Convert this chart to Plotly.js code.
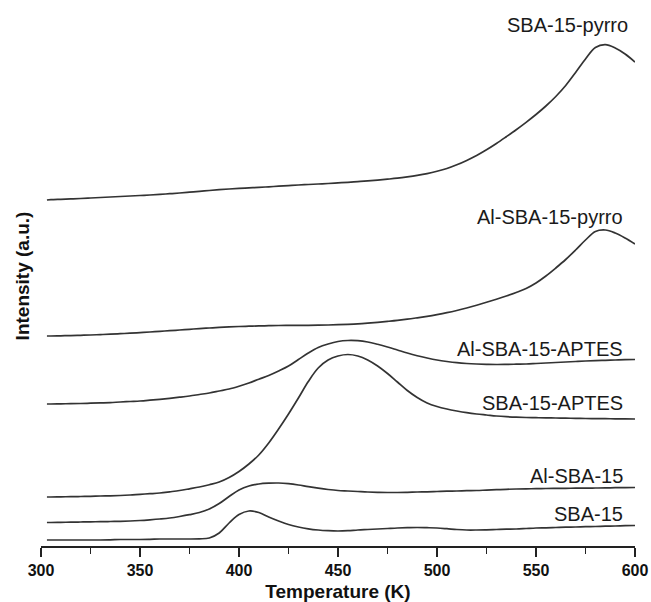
<!DOCTYPE html>
<html>
<head>
<meta charset="utf-8">
<script src="https://cdn.plot.ly/plotly-3.0.1.min.js"></script>
<style>
  html, body { margin: 0; padding: 0; background: #fff; }
  #chart { width: 651px; height: 602px; }
</style>
</head>
<body>
<div id="chart"></div>
<script>
// TPD profiles, stacked with vertical offsets (arbitrary units)
const sampleNames = ['SBA-15', 'Al-SBA-15', 'SBA-15-APTES', 'Al-SBA-15-APTES', 'Al-SBA-15-pyrro', 'SBA-15-pyrro'];

// common temperature grid (K)
const temperature = [303, 305, 310, 315, 320, 325, 330, 335, 340, 345, 350, 355, 360, 365, 370, 375, 380, 385, 390, 395,
  400, 405, 410, 415, 420, 425, 430, 435, 440, 445, 450, 455, 460, 465, 470, 475, 480, 485, 490, 495,
  500, 505, 510, 515, 520, 525, 530, 535, 540, 545, 550, 555, 560, 565, 570, 575, 580, 585, 590, 595, 600];

const iSBA15 = [6, 6, 6, 6, 6, 6, 6, 6.2, 6.5, 6.5, 6.5, 6.7, 7, 7, 7, 7, 7.2, 8, 13, 23,
  31.5, 35, 33.5, 29, 25, 21.5, 19, 17.2, 16, 15.3, 15, 15.3, 16, 16.5, 17, 17.5, 18, 18.3, 18.5, 18.3,
  18, 17.3, 16.5, 16, 16, 16.2, 16.5, 16.8, 17, 17.5, 18, 18.2, 18.5, 18.8, 19, 19.3, 19.5, 19.8, 20, 20.3, 20.5];

const iAlSBA15 = [23.5, 23.5, 23.7, 23.8, 24, 24.2, 24.3, 24.5, 24.7, 25, 25.5, 26.2, 27, 28, 29.5, 31.3, 33.5, 37, 42.5, 49.5,
  56, 60, 62, 62.8, 63, 62.3, 61, 59.3, 57.8, 56.5, 55.5, 55, 54.5, 54, 53.7, 53.5, 53.5, 53.7, 54, 54.2,
  54.5, 54.8, 55, 55.3, 55.5, 55.9, 56.3, 56.7, 57, 57.2, 57.3, 57.5, 57.6, 57.7, 57.8, 57.9, 58, 58.1, 58.3, 58.4, 58.5];

const iSBA15APTES = [49, 49, 49.2, 49.3, 49.5, 49.7, 50, 50.2, 50.5, 51, 51.7, 52.3, 53, 54.2, 55.5, 57.2, 59, 61.3, 64, 68.5,
  74.5, 82, 91, 103, 117, 132, 148, 164.5, 178, 186, 190, 191.5, 190, 186, 180, 172.5, 164, 155.5, 148.5, 143,
  139.5, 137, 135, 133.3, 132, 131, 130, 129.3, 128.8, 128.5, 128.3, 128.1, 128, 127.8, 127.7, 127.5, 127.4, 127.3, 127.2, 127.1, 127];

const iAlSBA15APTES = [142, 142, 142.2, 142.3, 142.5, 142.8, 143.1, 143.4, 144, 144.5, 145, 145.8, 146.7, 147.7, 148.8, 150, 151.5, 153, 155, 157,
  159.8, 163, 166.8, 170.5, 175, 180, 186.5, 193, 198.5, 202, 204.5, 205.5, 205.3, 204, 201.7, 199, 196, 193, 190.3, 188,
  186, 184.5, 183.3, 182.5, 182, 181.7, 181.5, 181.6, 181.8, 182, 182.5, 183, 183.5, 184, 184.5, 185, 185.4, 185.7, 186, 186.3, 186.5];

const iAlSBA15Pyrro = [210, 210, 210.2, 210.4, 210.7, 211, 211.4, 211.8, 212.3, 212.8, 213.4, 214, 214.7, 215.3, 216, 216.7, 217.4, 218, 218.6, 219.1,
  219.5, 219.8, 220.1, 220.3, 220.5, 220.6, 220.7, 220.7, 220.8, 221, 221.3, 221.7, 222.2, 222.9, 223.7, 224.6, 225.6, 226.8, 228.2, 229.7,
  231.4, 233.3, 235.5, 238, 240.8, 243.8, 246.8, 250, 253.5, 257.5, 263, 270, 278, 286.5, 296, 306, 314.5, 316, 313, 308, 302];

const iSBA15Pyrro = [346, 346.3, 346.7, 347.1, 347.5, 348, 348.5, 349, 349.5, 350, 350.5, 351, 351.6, 352.3, 353, 353.8, 354.6, 355.5, 356.3, 357,
  357.6, 358.1, 358.6, 359.2, 359.8, 360.4, 361, 361.5, 362, 362.5, 363.1, 363.7, 364.4, 365.1, 365.9, 366.8, 367.8, 369.1, 370.6, 372.4,
  374.7, 377.5, 381.2, 385.6, 390.5, 396.2, 402.5, 409.3, 416.3, 423.7, 431.5, 440, 449.5, 460.5, 473.5, 487, 498.5, 501.3, 498, 492, 484];

const xTickVals = [300, 350, 400, 450, 500, 550, 600];

const intens = [iSBA15, iAlSBA15, iSBA15APTES, iAlSBA15APTES, iAlSBA15Pyrro, iSBA15Pyrro];

// label placement next to each curve (right-aligned near the end of the axis)
const labelX = [595, 595, 595, 595, 595, 597.5];
const labelY = [31.8, 70.2, 142.7, 196.7, 329.5, 521];

const lineColor = '#333333';

const traces = sampleNames.map((name, i) => ({
  x: temperature,
  y: intens[i],
  name: name,
  type: 'scatter',
  mode: 'lines',
  line: { color: lineColor, width: 1.7, shape: 'spline', smoothing: 1 },
  hoverinfo: 'x+y+name'
}));

const annotations = sampleNames.map((name, i) => ({
  x: labelX[i],
  y: labelY[i],
  xref: 'x',
  yref: 'y',
  text: name,
  showarrow: false,
  xanchor: 'right',
  yanchor: 'middle',
  font: { family: 'Liberation Sans, Arial, sans-serif', size: 20, color: '#1a1a1a' }
}));

const layout = {
  width: 651,
  height: 602,
  margin: { l: 41, r: 16, t: 6, b: 56 },
  paper_bgcolor: '#ffffff',
  plot_bgcolor: '#ffffff',
  showlegend: false,
  font: { family: 'Liberation Sans, Arial, sans-serif', color: '#1a1a1a' },
  xaxis: {
    range: [300, 600],
    tickvals: xTickVals,
    ticktext: xTickVals.map(String),
    ticks: 'outside',
    ticklen: 9,
    tickwidth: 1.5,
    tickcolor: '#222',
    showline: true,
    linecolor: '#222',
    linewidth: 1.5,
    showgrid: false,
    zeroline: false,
    tickfont: { family: 'Liberation Sans, Arial, sans-serif', size: 16, color: '#111', weight: 700 },
    minor: { dtick: 25, tick0: 300, ticks: 'outside', ticklen: 6, tickwidth: 1.5, tickcolor: '#222', showgrid: false },
    title: { text: 'Temperature (K)', font: { family: 'Liberation Sans, Arial, sans-serif', size: 19, color: '#111', weight: 700 }, standoff: 7 }
  },
  yaxis: {
    range: [0, 540],
    showline: false,
    showticklabels: false,
    ticks: '',
    showgrid: false,
    zeroline: false,
    title: { text: 'Intensity (a.u.)', font: { family: 'Liberation Sans, Arial, sans-serif', size: 19, color: '#111', weight: 700 }, standoff: 5 }
  },
  annotations: annotations
};

Plotly.newPlot('chart', traces, layout, { displayModeBar: false, staticPlot: true });
</script>
</body>
</html>
